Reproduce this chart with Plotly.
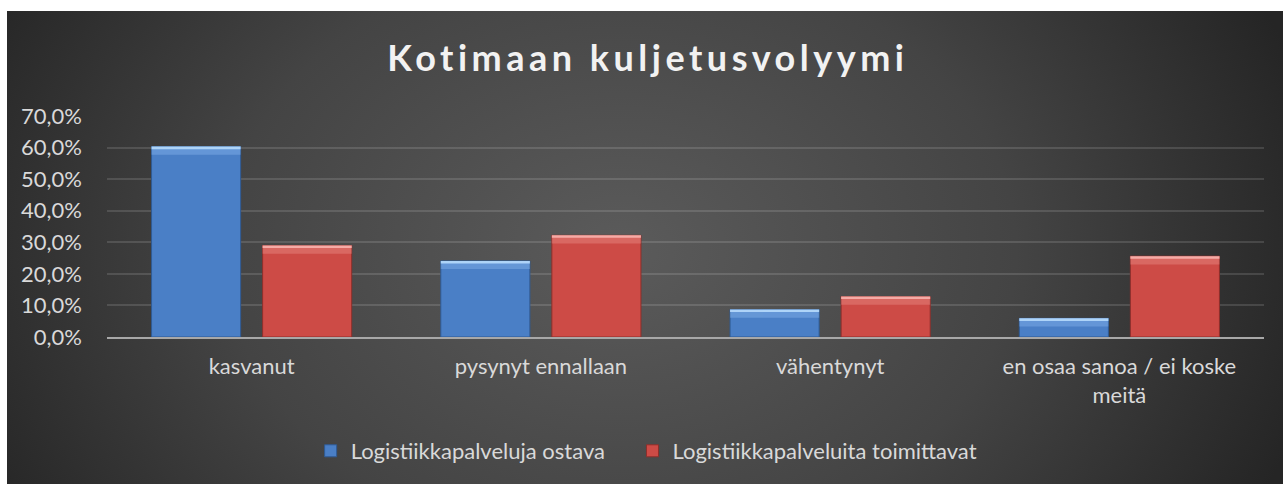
import base64
import plotly.graph_objects as go

categories = ["kasvanut", "pysynyt ennallaan", "vähentynyt", "en osaa sanoa / ei koske<br>meitä"]
series_names = ["Logistiikkapalveluja ostava", "Logistiikkapalveluita toimittavat"]
buyers = [60.3, 24.1, 8.7, 5.9]
providers = [29.0, 32.2, 12.8, 25.6]
y_ticks = [0, 10, 20, 30, 40, 50, 60, 70]
y_tick_text = [f"{v:.1f}".replace(".", ",") + "%" for v in y_ticks]

W, H = 1283, 484
L, R, T, B = 107, 19, 116, 147
pw, ph = W - L - R, H - T - B

svg = f'''<svg xmlns="http://www.w3.org/2000/svg" width="{W}" height="{H}" viewBox="0 0 {W} {H}" preserveAspectRatio="none">
<defs><radialGradient id="g" cx="620" cy="250" r="720" gradientUnits="userSpaceOnUse" gradientTransform="translate(620 250) scale(1 0.75) translate(-620 -250)">
<stop offset="0" stop-color="#5b5b5b"/><stop offset="0.55" stop-color="#444444"/><stop offset="1" stop-color="#252525"/></radialGradient></defs>
<rect x="0" y="0" width="{W}" height="{H}" fill="#ffffff"/>
<rect x="7" y="11" width="{W-7}" height="{H-11}" fill="url(#g)"/>
</svg>'''
bg = "data:image/svg+xml;base64," + base64.b64encode(svg.encode()).decode()

colors = ["#4a7fc6", "#cd4b46"]
line_colors = ["#2f5b94", "#8e2f2b"]
hl_soft = ["#86b4ea", "#e98c86"]
hl_bright = ["#b6dafc", "#f7b3ae"]
font = "Lato, 'Open Sans', sans-serif"
pad = "\u00a0" * 4

fig = go.Figure()
for i, (name, vals, c, lc) in enumerate(zip(series_names, [buyers, providers], colors, line_colors)):
    fig.add_trace(go.Bar(name=name + (pad if i == 0 else ""), x=categories, y=vals, offsetgroup=str(i),
                         marker=dict(color=c, line=dict(color=lc, width=1))))

# bevel highlight strips at the top of each bar
for i, vals in enumerate([buyers, providers]):
    for h, col, op in [(2.6, hl_soft[i], 0.45), (0.8, hl_bright[i], 0.9)]:
        fig.add_trace(go.Bar(x=categories, y=[h] * len(vals), base=[v - h for v in vals],
                             marker=dict(color=col, line=dict(width=0)), opacity=op,
                             showlegend=False, hoverinfo="skip", offsetgroup=str(i)))

fig.update_layout(
    width=W, height=H,
    margin=dict(l=L, r=R, t=T, b=B, autoexpand=False),
    paper_bgcolor="#ffffff", plot_bgcolor="rgba(0,0,0,0)",
    barmode="group", bargap=0.232, bargroupgap=0.198,
    font=dict(family=font, size=22, color="#d9d9d9"),
    title=dict(text='<span style="letter-spacing:4.5px"><b>Kotimaan kuljetusvolyymi</b></span>',
               x=0.505, xref="container", y=1 - 58 / H, yref="container", xanchor="center", yanchor="middle",
               font=dict(family=font, size=36, color="#f2f2f2")),
    legend=dict(orientation="h", x=0.504, xref="container", xanchor="center", y=1 - 451 / H, yref="container",
                yanchor="middle", font=dict(size=22, color="#d9d9d9"), bgcolor="rgba(0,0,0,0)",
                itemwidth=30, traceorder="normal"),
    images=[dict(source=bg, xref="paper", yref="paper", x=-L / pw, y=1 + T / ph, sizex=W / pw, sizey=H / ph,
                 xanchor="left", yanchor="top", sizing="stretch", layer="below")],
)
fig.update_yaxes(range=[0, 70], tickvals=y_ticks, ticktext=y_tick_text,
                 showgrid=True, gridcolor="rgba(255,255,255,0.13)", gridwidth=1.5,
                 zeroline=False, showline=False, ticks="", ticklabelstandoff=24,
                 tickfont=dict(size=22, color="#d9d9d9"))
fig.update_xaxes(showline=True, linecolor="#a8a8a8", linewidth=2, ticks="", ticklabelstandoff=9,
                 tickfont=dict(size=22, color="#d9d9d9"), showgrid=False)

fig.write_html("out.html", config={"displayModeBar": False},
               post_script="document.body.style.margin='0';")
